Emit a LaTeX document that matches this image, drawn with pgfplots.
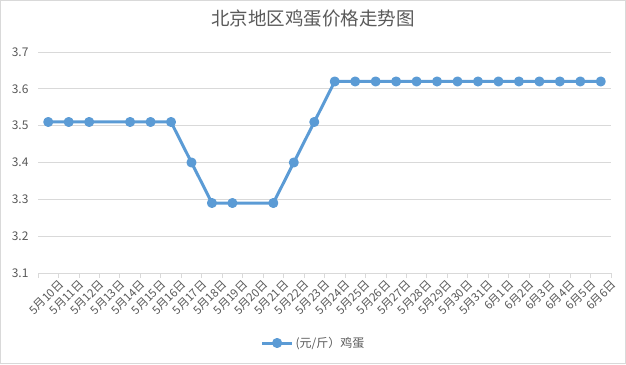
\documentclass[border=0pt]{standalone}
\usepackage{fontspec}
\setmainfont{Noto Sans CJK SC}
\usepackage{pgfplots}
\pgfplotsset{compat=1.18}
\definecolor{ln}{HTML}{5B9BD5}
\definecolor{txt}{HTML}{595959}
\definecolor{grd}{HTML}{D9D9D9}
\begin{document}
\begin{tikzpicture}
\draw[grd, line width=1pt] (-37.5pt,-90.5pt) rectangle (587.5pt,272.5pt);
\begin{axis}[
  at={(0,0)}, anchor=south west,
  scale only axis, width=573pt, height=221pt,
  xmin=-0.5, xmax=27.5, ymin=3.1, ymax=3.7,
  ytick={3.1,3.2,3.3,3.4,3.5,3.6,3.7},
  yticklabel style={/pgf/number format/fixed, /pgf/number format/precision=1, /pgf/number format/fixed zerofill, /pgf/number format/assume math mode=true, xshift=-6pt},
  xtick={0,...,27},
  xticklabels={5月10日,5月11日,5月12日,5月13日,5月14日,5月15日,5月16日,5月17日,5月18日,5月19日,5月20日,5月21日,5月22日,5月23日,5月24日,5月25日,5月26日,5月27日,5月28日,5月29日,5月30日,5月31日,6月1日,6月2日,6月3日,6月4日,6月5日,6月6日},
  xticklabel style={rotate=45, anchor=east, xshift=6pt, yshift=-16pt, font=\fontsize{11.5}{13}\selectfont},
  minor xtick={-0.5,0.5,...,27.5},
  major tick length=0pt, minor tick length=5pt, tick align=outside,
  minor x tick style={grd, line width=0.75pt},
  major tick style={draw=none},
  axis x line*=bottom, axis y line*=left,
  x axis line style={grd, line width=0.75pt, -},
  y axis line style={draw=none},
  ymajorgrids, major grid style={grd, line width=0.75pt},
  tick label style={font=\fontsize{12}{14}\selectfont, text=txt},
  title={北京地区鸡蛋价格走势图},
  title style={at={(axis description cs:0.5,1)}, anchor=center, yshift=27pt, xshift=-11.5pt, font=\fontsize{18.5}{20}\selectfont, text=txt},
  legend style={at={(axis description cs:0.5,0)}, anchor=center, yshift=-70pt, xshift=-11pt, draw=none, fill=none, font=\fontsize{12}{14}\selectfont, text=txt},
  legend image code/.code={\draw[#1, mark repeat=2, mark phase=2] plot coordinates {(0pt,0pt) (15pt,0pt) (30pt,0pt)};},
]
\addplot[ln, line width=3pt, line join=round, mark=*, mark size=3.5pt, mark options={solid, fill=ln, draw=none}] coordinates {
 (0,3.51) (1,3.51) (2,3.51) (4,3.51) (5,3.51) (6,3.51) (7,3.40) (8,3.29) (9,3.29) (11,3.29) (12,3.40) (13,3.51)
 (14,3.62) (15,3.62) (16,3.62) (17,3.62) (18,3.62) (19,3.62) (20,3.62) (21,3.62) (22,3.62) (23,3.62) (24,3.62) (25,3.62) (26,3.62) (27,3.62)
};
\addlegendentry{(元/斤）鸡蛋}
\end{axis}
\end{tikzpicture}
\end{document}
